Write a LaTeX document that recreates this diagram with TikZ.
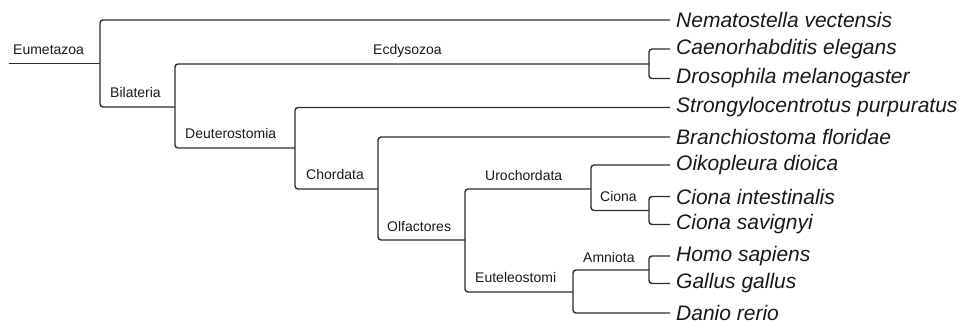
\documentclass[tikz,border=0pt]{standalone}
\usepackage{fontspec}
\setmainfont{Liberation Sans}
\definecolor{ln}{RGB}{45,45,45}
\definecolor{tx}{RGB}{25,25,25}
\begin{document}
\begin{tikzpicture}[x=1pt,y=-1pt,
  branch/.style={draw=ln,line width=1.4pt,rounded corners=3pt},
  leaf/.style={anchor=west,inner xsep=6pt,inner ysep=0pt,text=tx,font=\fontsize{21}{21}\selectfont\itshape},
  clade/.style={anchor=base west,inner sep=0pt,text=tx,font=\fontsize{14}{14}\selectfont}]
\useasboundingbox (0,0) rectangle (967,323);
% leaves
\node[leaf] (nem) at (670,20) {Nematostella vectensis};
\node[leaf] (cae) at (670,49) {Caenorhabditis elegans};
\node[leaf] (dro) at (670,78.5) {Drosophila melanogaster};
\node[leaf] (str) at (670,107.5) {Strongylocentrotus purpuratus};
\node[leaf] (bra) at (670,137) {Branchiostoma floridae};
\node[leaf] (oik) at (670,165) {Oikopleura dioica};
\node[leaf] (cin) at (670,196.5) {Ciona intestinalis};
\node[leaf] (csa) at (670,224.5) {Ciona savignyi};
\node[leaf] (hom) at (670,256) {Homo sapiens};
\node[leaf] (gal) at (670,283.5) {Gallus gallus};
\node[leaf] (dan) at (670,313) {Danio rerio};
% internal nodes
\coordinate (start) at (9,63.5);
\coordinate (eum) at (100,63.5);
\coordinate (bil) at (175,107);
\coordinate (ecd) at (649,64);
\coordinate (deu) at (295,148);
\coordinate (cho) at (378,189);
\coordinate (olf) at (465,240);
\coordinate (uro) at (591,189);
\coordinate (cio) at (649,210.5);
\coordinate (eut) at (573,292);
\coordinate (amn) at (649,270);
% branches
\draw[branch] (start) -- (eum);
\draw[branch] (nem.west) -| (eum) |- (bil);
\draw[branch] (ecd) |- (cae.west);
\draw[branch] (ecd) |- (dro.west);
\draw[branch] (ecd) -| (bil) |- (deu);
\draw[branch] (str.west) -| (deu) |- (cho);
\draw[branch] (bra.west) -| (cho) |- (olf);
\draw[branch] (uro) -| (olf) |- (eut);
\draw[branch] (oik.west) -| (uro) |- (cio);
\draw[branch] (cio) |- (cin.west);
\draw[branch] (cio) |- (csa.west);
\draw[branch] (amn) -| (eut) |- (dan.west);
\draw[branch] (amn) |- (hom.west);
\draw[branch] (amn) |- (gal.west);
% clade labels
\node[clade] (lEum) at (13,55) {Eumetazoa};
\node[clade] (lBil) at (110,98) {Bilateria};
\node[clade] (lEcd) at (373,55) {Ecdysozoa};
\node[clade] (lDeu) at (185,139) {Deuterostomia};
\node[clade] (lCho) at (306,180) {Chordata};
\node[clade] (lOlf) at (387,232) {Olfactores};
\node[clade] (lUro) at (485,181) {Urochordata};
\node[clade] (lCio) at (600,202) {Ciona};
\node[clade] (lEut) at (475,283) {Euteleostomi};
\node[clade] (lAmn) at (583,262) {Amniota};
\end{tikzpicture}
\end{document}
